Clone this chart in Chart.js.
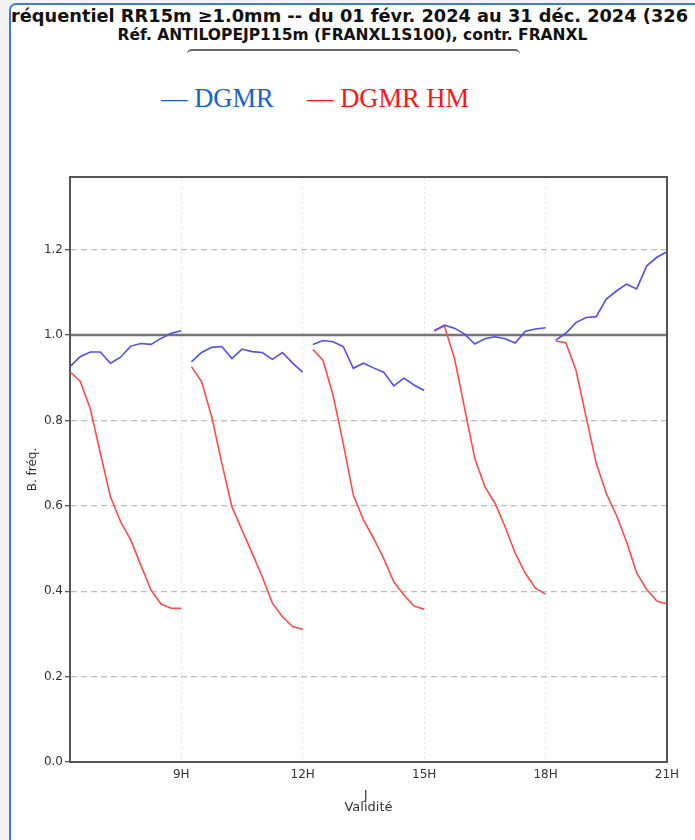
<!DOCTYPE html>
<html>
<head>
<meta charset="utf-8">
<script src="https://cdn.jsdelivr.net/npm/chart.js@4.4.1/dist/chart.umd.min.js"></script>
<style>
html, body { margin: 0; padding: 0; }
body { width: 695px; height: 840px; background: #f2f2f2; position: relative; overflow: hidden; font-family: "DejaVu Sans", sans-serif; }
#frame { position: absolute; left: 9px; top: 3px; width: 720px; height: 860px; border: 2px solid #3b7ddd; border-radius: 7px; background: #fff; box-sizing: border-box; }
#title1 { position: absolute; left: 11px; top: 5px; white-space: nowrap; font-weight: bold; font-size: 17.8px; color: #111; }
#title2 { position: absolute; left: 10px; width: 685px; top: 26px; text-align: center; white-space: nowrap; font-weight: bold; font-size: 15.5px; color: #111; }
#rule { position: absolute; left: 187px; top: 49px; width: 333px; height: 6px; border-top: 2px solid #666; border-radius: 5px 5px 0 0; }
.leg { position: absolute; top: 85px; font-family: "Liberation Serif", serif; font-size: 26.5px; line-height: 26px; white-space: nowrap; }
#jlab { position: absolute; left: 364px; top: 788px; font-size: 12px; color: #333; }
#wrap { position: absolute; left: 0; top: 0; width: 695px; height: 840px; }
</style>
</head>
<body>
<div id="frame"></div>
<div id="title1">réquentiel RR15m ≥1.0mm -- du 01 févr. 2024 au 31 déc. 2024 (326</div>
<div id="title2">Réf. ANTILOPEJP115m (FRANXL1S100), contr. FRANXL</div>
<div id="rule"></div>
<div class="leg" style="left:161px;color:#1a63c6">— DGMR</div>
<div class="leg" style="left:307px;color:#ff1414">— DGMR HM</div>
<div id="wrap"><canvas id="c"></canvas></div>
<div id="jlab">J</div>
<script>
// validity times, 15 min steps, five 3h runs
const TIMES = [
  '06:15','06:30','06:45','07:00','07:15','07:30','07:45','08:00','08:15','08:30','08:45','09:00',
  '09:15','09:30','09:45','10:00','10:15','10:30','10:45','11:00','11:15','11:30','11:45','12:00',
  '12:15','12:30','12:45','13:00','13:15','13:30','13:45','14:00','14:15','14:30','14:45','15:00',
  '15:15','15:30','15:45','16:00','16:15','16:30','16:45','17:00','17:15','17:30','17:45','18:00',
  '18:15','18:30','18:45','19:00','19:15','19:30','19:45','20:00','20:15','20:30','20:45','21:00'
];
const X_TICKS = { '09:00': '9H', '12:00': '12H', '15:00': '15H', '18:00': '18H', '21:00': '21H' };
const Y_TICKS = [0, 0.2, 0.4, 0.6, 0.8, 1.0, 1.2];
const RUN_ENDS = ['09:00', '12:00', '15:00', '18:00'];
const REF = 1.0;

const DGMR = [
  0.926, 0.949, 0.960, 0.960, 0.934, 0.948, 0.974, 0.980, 0.978, 0.992, 1.004, 1.010,
  0.937, 0.959, 0.971, 0.973, 0.945, 0.967, 0.961, 0.959, 0.943, 0.959, 0.934, 0.913,
  0.978, 0.987, 0.984, 0.973, 0.922, 0.934, 0.923, 0.913, 0.881, 0.899, 0.883, 0.870,
  1.010, 1.023, 1.016, 1.002, 0.979, 0.991, 0.996, 0.991, 0.981, 1.009, 1.014, 1.017,
  0.988, 1.004, 1.029, 1.041, 1.043, 1.084, 1.103, 1.119, 1.108, 1.162, 1.182, 1.195
];
const DGMR_HM = [
  0.914, 0.892, 0.828, 0.723, 0.621, 0.563, 0.520, 0.461, 0.403, 0.370, 0.360, 0.360,
  0.926, 0.891, 0.809, 0.700, 0.598, 0.543, 0.489, 0.434, 0.372, 0.340, 0.317, 0.311,
  0.966, 0.941, 0.859, 0.746, 0.625, 0.567, 0.524, 0.477, 0.422, 0.391, 0.365, 0.358,
  1.010, 1.021, 0.945, 0.828, 0.711, 0.645, 0.606, 0.551, 0.489, 0.442, 0.407, 0.393,
  0.986, 0.982, 0.918, 0.809, 0.700, 0.629, 0.578, 0.516, 0.443, 0.404, 0.377, 0.370
];

// no line between the last step of a run and the first of the next one
const cutRuns = ctx => RUN_ENDS.includes(TIMES[ctx.p0DataIndex]) ? 'transparent' : undefined;

const frameBox = {
  id: 'frameBox',
  beforeDatasetsDraw(chart) {
    const { ctx, chartArea: a, scales: { y } } = chart;
    ctx.save();
    ctx.strokeStyle = '#767676';
    ctx.lineWidth = 2.5;
    const yr = y.getPixelForValue(REF);
    ctx.beginPath();
    ctx.moveTo(a.left, yr);
    ctx.lineTo(a.right, yr);
    ctx.stroke();
    ctx.strokeStyle = '#555';
    ctx.lineWidth = 2;
    ctx.strokeRect(a.left, a.top, a.right - a.left, a.bottom - a.top);
    ctx.restore();
  }
};

Chart.defaults.font.family = '"DejaVu Sans", sans-serif';
Chart.defaults.color = '#333';

new Chart(document.getElementById('c'), {
  type: 'line',
  data: {
    labels: TIMES,
    datasets: [
      { label: 'DGMR', data: DGMR, borderColor: '#4f4ff5', borderWidth: 1.6, pointRadius: 0, tension: 0, segment: { borderColor: cutRuns } },
      { label: 'DGMR HM', data: DGMR_HM, borderColor: '#ff4a4a', borderWidth: 1.6, pointRadius: 0, tension: 0, segment: { borderColor: cutRuns } }
    ]
  },
  options: {
    responsive: true,
    maintainAspectRatio: false,
    animation: false,
    layout: { padding: { top: 177, right: 28, left: 0, bottom: 0 } },
    plugins: { legend: { display: false }, tooltip: { enabled: false } },
    scales: {
      x: {
        type: 'category',
        offset: false,
        afterBuildTicks: s => { s.ticks = s.ticks.filter(t => X_TICKS[TIMES[t.value]]); },
        afterFit: s => { s.height = 78; },
        ticks: { autoSkip: false, maxRotation: 0, padding: 2, font: { size: 12 }, callback: v => X_TICKS[TIMES[v]] },
        grid: { color: '#e4e4e4', lineWidth: 1, tickLength: 4, tickColor: '#fff' },
        border: { color: '#555', width: 2, dash: [2, 3] },
        title: { display: true, text: 'Validité', font: { size: 13 }, color: '#333', padding: { top: 0, bottom: 25 } }
      },
      y: {
        min: 0,
        max: 1.37,
        afterBuildTicks: s => { s.ticks = Y_TICKS.map(v => ({ value: v })); },
        afterFit: s => { s.width = 70; },
        ticks: { padding: 2, font: { size: 12 }, callback: v => v.toFixed(1) },
        grid: { color: '#bdbdbd', lineWidth: 1.3, tickLength: 5, tickColor: '#555' },
        border: { color: '#555', width: 2, dash: [6, 4] },
        title: { display: true, text: 'B. fréq.', font: { size: 12 }, color: '#333', padding: { top: 26, bottom: 0 } }
      }
    }
  },
  plugins: [frameBox]
});
</script>
</body>
</html>
